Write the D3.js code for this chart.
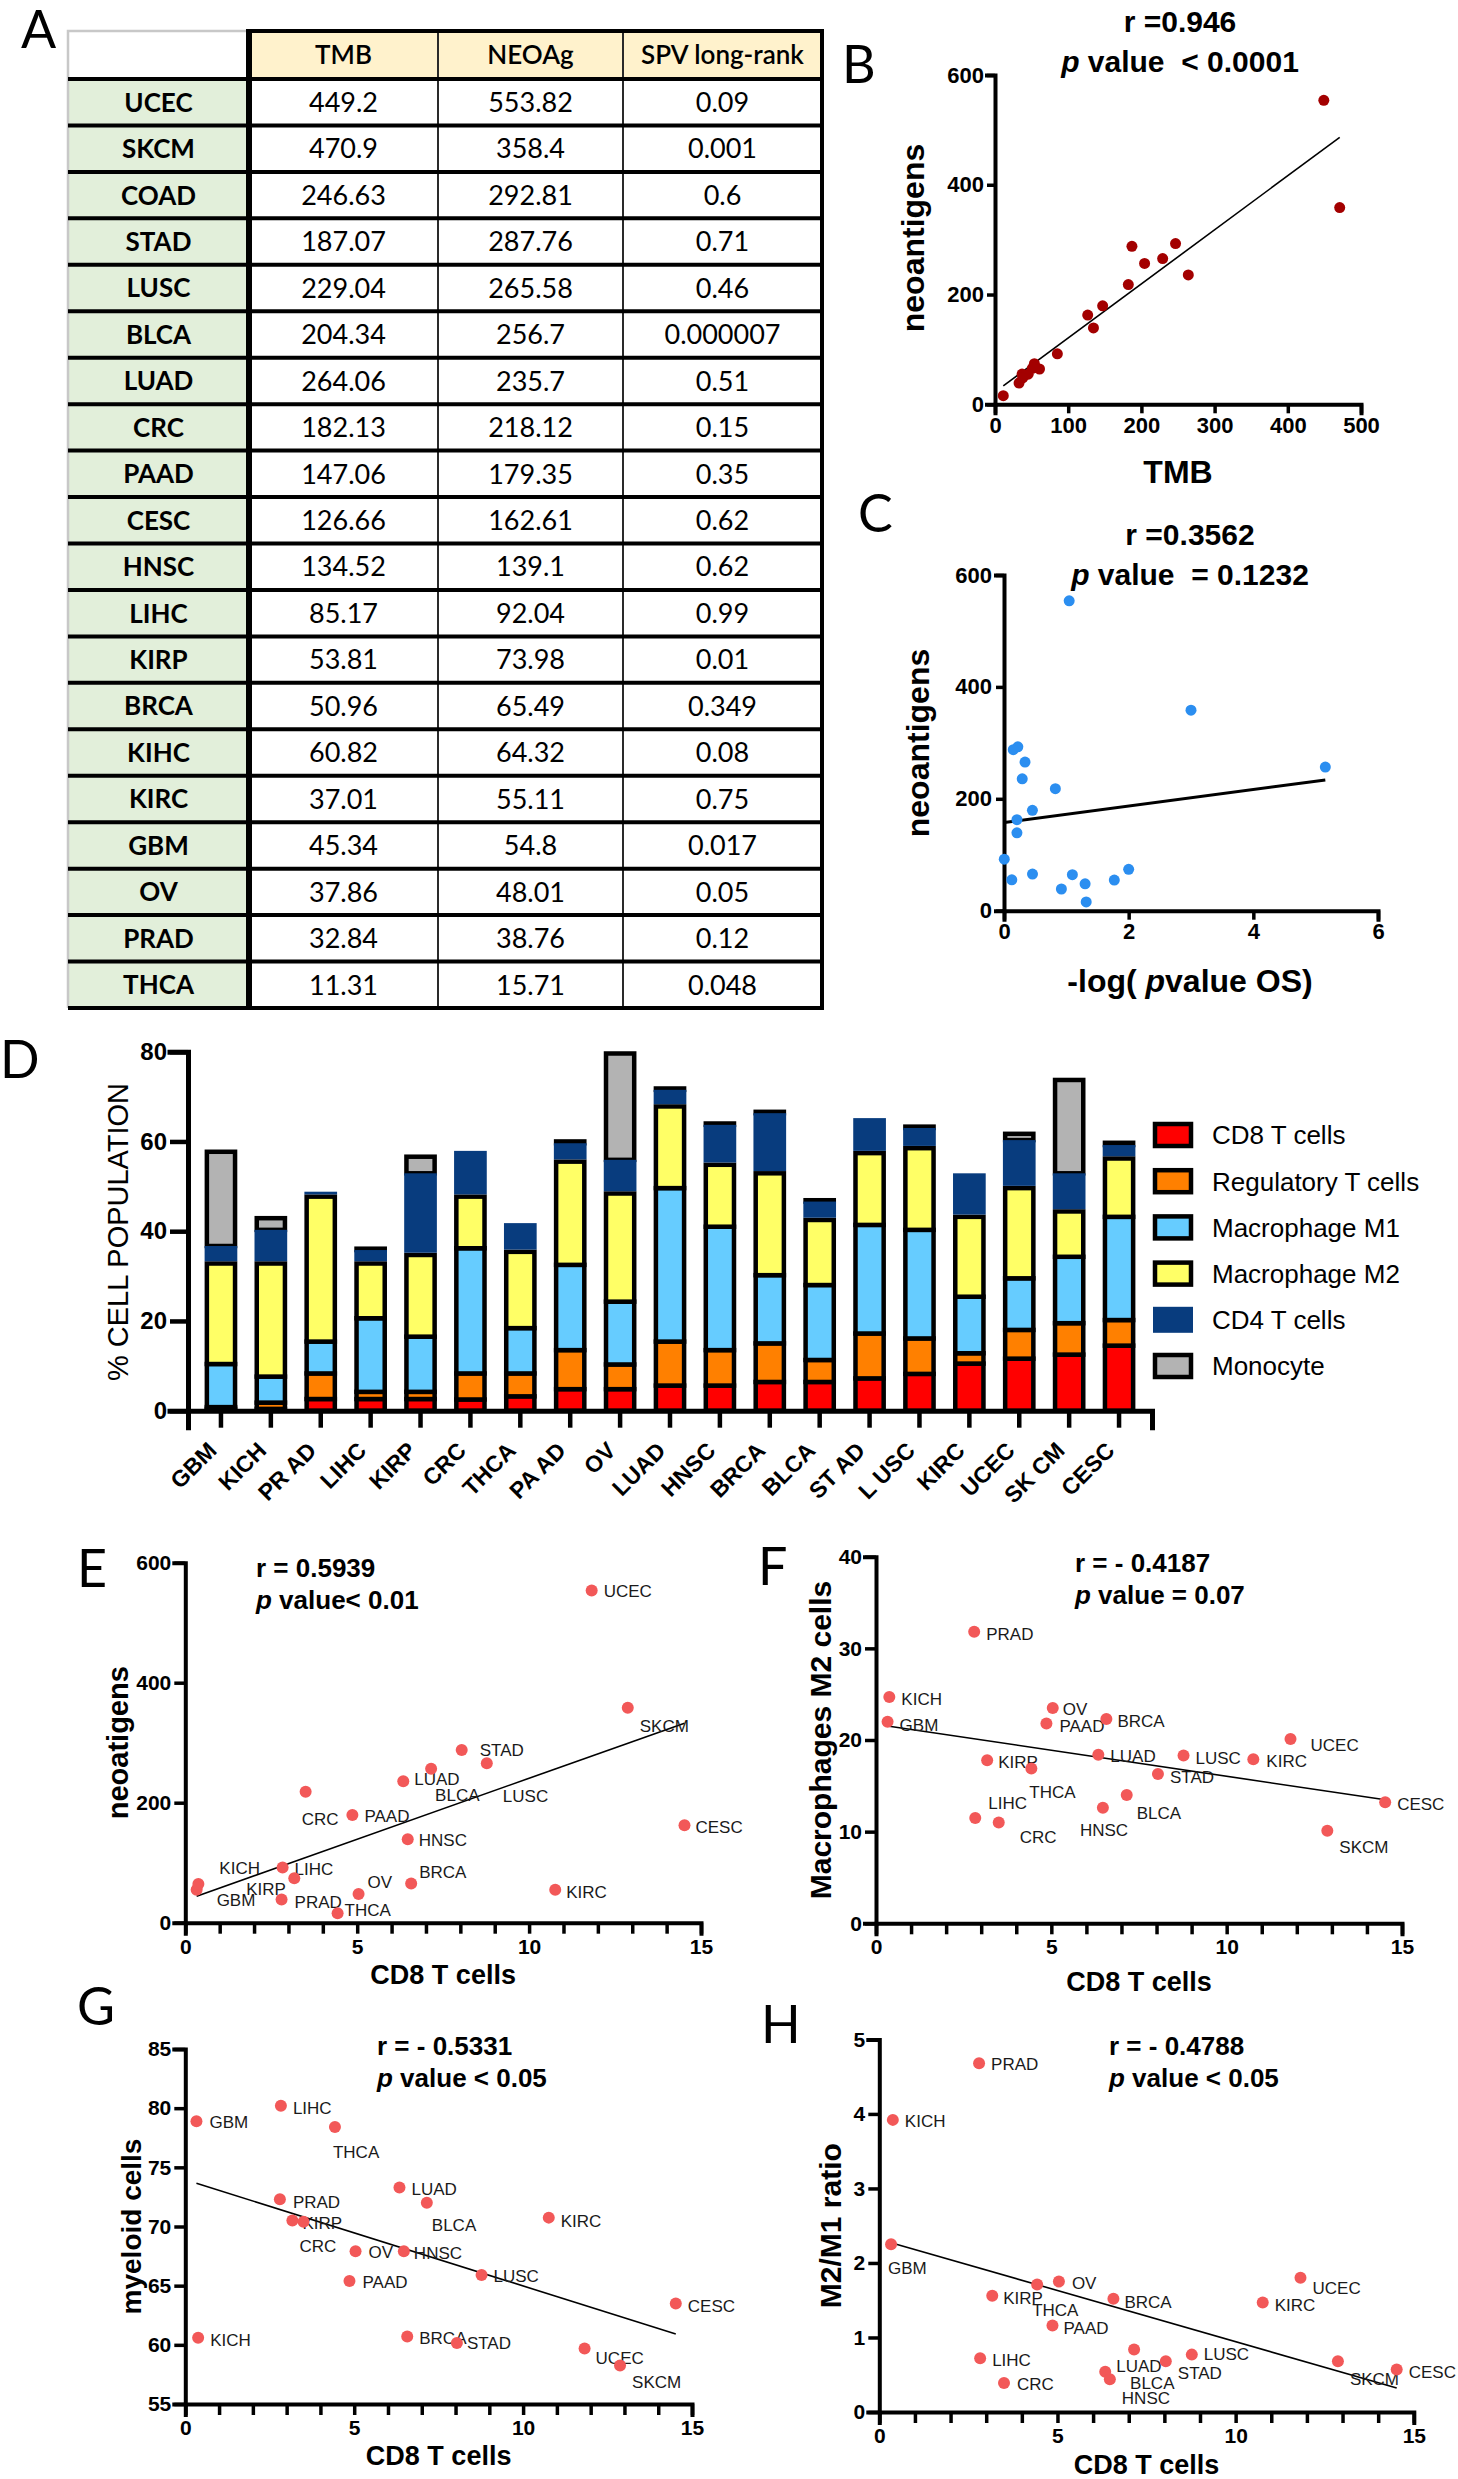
<!DOCTYPE html>
<html>
<head>
<meta charset="utf-8">
<script src="https://cdn.jsdelivr.net/npm/d3@7"></script>
<style>
  body { margin: 0; background: #fff; }
  svg { display: block; }
  text { font-family: "Liberation Sans", Arial, sans-serif; }
  .pre { white-space: pre; }
</style>
</head>
<body>
<script>
(function () {
  "use strict";

  // ---- panel A table (also feeds B and C)
  var tumours = ["UCEC", "SKCM", "COAD", "STAD", "LUSC", "BLCA", "LUAD", "CRC", "PAAD", "CESC",
                 "HNSC", "LIHC", "KIRP", "BRCA", "KIHC", "KIRC", "GBM", "OV", "PRAD", "THCA"];
  var tmbValues = [449.2, 470.9, 246.63, 187.07, 229.04, 204.34, 264.06, 182.13, 147.06, 126.66,
                   134.52, 85.17, 53.81, 50.96, 60.82, 37.01, 45.34, 37.86, 32.84, 11.31];
  var neoagValues = [553.82, 358.4, 292.81, 287.76, 265.58, 256.7, 235.7, 218.12, 179.35, 162.61,
                     139.1, 92.04, 73.98, 65.49, 64.32, 55.11, 54.8, 48.01, 38.76, 15.71];
  var spvValues = ["0.09", "0.001", "0.6", "0.71", "0.46", "0.000007", "0.51", "0.15", "0.35", "0.62",
                   "0.62", "0.99", "0.01", "0.349", "0.08", "0.75", "0.017", "0.05", "0.12", "0.048"];
  var tableHeads = ["TMB", "NEOAg", "SPV long-rank"];

  // ---- panel D stacked bars (% cell population)
  var barTumours = ["GBM", "KICH", "PR AD", "LIHC", "KIRP", "CRC", "THCA", "PA AD", "OV", "LUAD",
                    "HNSC", "BRCA", "BLCA", "ST AD", "L USC", "KIRC", "UCEC", "SK CM", "CESC"];
  var cellTypes = ["CD8 T cells", "Regulatory T cells", "Macrophage M1", "Macrophage M2", "CD4 T cells", "Monocyte"];
  var cd8Share  = [0.4, 0.4, 2.6, 2.6, 2.6, 2.5, 3.2, 4.8, 4.8, 5.6, 5.6, 6.4, 6.4, 7.2, 8.2, 10.5, 11.6, 12.5, 14.5];
  var tregShare = [0.4, 1.4, 5.7, 1.6, 1.6, 5.8, 5.1, 8.7, 5.5, 9.8, 7.9, 8.6, 4.9, 10.0, 7.9, 2.3, 6.4, 7.0, 5.7];
  var m1Share   = [9.6, 5.8, 7.1, 16.4, 12.3, 27.9, 10.1, 19.0, 14.0, 34.2, 27.5, 15.2, 16.7, 24.2, 24.2, 12.6, 11.5, 14.8, 23.0];
  var m2Share   = [22.4, 25.2, 32.3, 12.2, 18.2, 11.5, 17.0, 23.0, 24.1, 18.2, 13.8, 22.7, 14.5, 16.0, 18.2, 17.8, 20.1, 10.1, 13.0];
  var cd4Share  = [3.9, 7.5, 1.1, 3.0, 18.2, 10.2, 6.4, 4.1, 7.5, 3.7, 8.9, 13.4, 4.1, 7.8, 4.5, 9.7, 10.7, 8.5, 3.0];
  var monoShare = [21.0, 2.6, 0, 0.3, 3.7, 0, 0, 0.4, 23.7, 0.3, 0.3, 0.3, 0.3, 0, 0.3, 0, 1.4, 20.8, 0.5];

  // ---- panels E-H scatter (x = CD8 T cells)
  var sites = ["GBM", "KICH", "PRAD", "LIHC", "KIRP", "CRC", "THCA", "PAAD", "OV", "LUAD",
               "HNSC", "BRCA", "BLCA", "STAD", "LUSC", "KIRC", "UCEC", "SKCM", "CESC"];
  var cd8Cells = [0.33, 0.38, 2.8, 2.83, 3.17, 3.5, 4.43, 4.86, 5.04, 6.34,
                  6.47, 6.57, 7.15, 8.04, 8.77, 10.76, 11.82, 12.87, 14.52];
  var neoatigens = [54.8, 64.32, 38.76, 92.04, 73.98, 218.12, 15.71, 179.35, 48.01, 235.7,
                    139.1, 65.49, 256.7, 287.76, 265.58, 55.11, 553.82, 358.4, 162.61];
  var m2Cells = [22.0, 24.7, 31.8, 11.5, 17.8, 11.0, 16.9, 21.8, 23.5, 18.4,
                 12.6, 22.3, 14.0, 16.3, 18.3, 17.9, 20.1, 10.1, 13.2];
  var myeloidCells = [78.9, 60.6, 72.3, 80.2, 70.5, 70.4, 78.4, 65.4, 67.9, 73.3,
                      67.9, 60.7, 72.0, 60.15, 65.9, 70.75, 59.7, 58.25, 63.5];
  var m2m1Ratio = [2.25, 3.92, 4.68, 0.72, 1.56, 0.39, 1.71, 1.16, 1.75, 0.54,
                   0.44, 1.52, 0.84, 0.68, 0.77, 1.47, 1.80, 0.68, 0.57];

  var cellColors = ["#ff0000", "#ff8000", "#66ccff", "#ffff66", "#083c7e", "#b3b3b3"];
  var intFmt = d3.format('d');

  var svg = d3.select('body').append('svg')
      .attr('width', 1458)
      .attr('height', 2479);

  function panelLetter(letter, x, y) {
    svg.append('text')
        .attr('x', x).attr('y', y)
        .style('font-family', 'Lato, "Open Sans", sans-serif')
        .attr('font-size', 52)
        .text(letter);
  }

  function styleAxis(g, size) {
    g.attr('font-family', null).attr('font-size', null);
    g.select('.domain').attr('stroke', '#000').attr('stroke-width', 4).attr('stroke-linecap', 'square');
    g.selectAll('.tick line').attr('stroke', '#000').attr('stroke-width', 3.5);
    g.selectAll('.tick text').attr('fill', '#000').attr('font-weight', 'bold').attr('font-size', size);
  }

  function yLabel(txt, x, y, size, weight) {
    svg.append('text')
        .attr('transform', 'translate(' + x + ',' + y + ') rotate(-90)')
        .attr('text-anchor', 'middle').attr('dy', '0.35em')
        .attr('font-size', size).attr('font-weight', weight || 'bold')
        .text(txt);
  }

  function xLabel(x, y, size, parts) {
    var t = svg.append('text').attr('class', 'pre')
        .attr('x', x).attr('y', y).attr('text-anchor', 'middle')
        .attr('font-size', size).attr('font-weight', 'bold');
    parts.forEach(function (p) {
      t.append('tspan').attr('font-style', p[1] ? 'italic' : null).text(p[0]);
    });
    return t;
  }

  function fit(xs, ys) {
    var mx = d3.mean(xs), my = d3.mean(ys);
    var sxy = d3.sum(xs, function (x, i) { return (x - mx) * (ys[i] - my); });
    var sxx = d3.sum(xs, function (x) { return (x - mx) * (x - mx); });
    var slope = sxy / sxx;
    var ext = d3.extent(xs);
    return ext.map(function (x) { return [x, my + slope * (x - mx)]; });
  }

  // ================= A : table
  panelLetter('A', 21, 48);
  var colX = [68, 249, 438, 623, 822];
  var headTop = 31;
  var rows = d3.scaleBand().domain(tumours).range([79, 1008]);
  var rowH = rows.bandwidth();
  var tbl = svg.append('g');

  tbl.append('rect').attr('x', colX[1]).attr('y', headTop)
      .attr('width', colX[4] - colX[1]).attr('height', 79 - headTop).attr('fill', '#fff2cc');
  tbl.selectAll('.lab').data(tumours).enter().append('rect')
      .attr('x', colX[0]).attr('y', function (d) { return rows(d); })
      .attr('width', colX[1] - colX[0]).attr('height', rowH).attr('fill', '#e2efda');

  // light outline of empty corner / left edge
  tbl.append('path').attr('d', 'M' + colX[0] + ',1008V' + headTop + 'H' + colX[1])
      .attr('fill', 'none').attr('stroke', '#c8c8c8').attr('stroke-width', 2.5);
  // thin column rules
  [colX[2], colX[3]].forEach(function (x) {
    tbl.append('line').attr('x1', x).attr('x2', x).attr('y1', headTop).attr('y2', 1008)
        .attr('stroke', '#2a2a2a').attr('stroke-width', 2);
  });
  // row rules
  rows.domain().concat(['end']).forEach(function (d) {
    var y = d === 'end' ? 1008 : rows(d);
    tbl.append('line').attr('x1', colX[0]).attr('x2', colX[4] + 2).attr('y1', y).attr('y2', y)
        .attr('stroke', '#000').attr('stroke-width', 4);
  });
  tbl.append('line').attr('x1', colX[1]).attr('x2', colX[4] + 2).attr('y1', headTop).attr('y2', headTop)
      .attr('stroke', '#000').attr('stroke-width', 4);
  tbl.append('line').attr('x1', colX[1]).attr('x2', colX[1]).attr('y1', headTop - 2).attr('y2', 1010)
      .attr('stroke', '#000').attr('stroke-width', 6);
  tbl.append('line').attr('x1', colX[4]).attr('x2', colX[4]).attr('y1', headTop - 2).attr('y2', 1010)
      .attr('stroke', '#000').attr('stroke-width', 4);

  var tFont = 'Lato, "Open Sans", sans-serif';
  tableHeads.forEach(function (h, j) {
    tbl.append('text')
        .attr('x', (colX[j + 1] + colX[j + 2]) / 2).attr('y', (headTop + 79) / 2)
        .attr('dy', '0.36em').attr('text-anchor', 'middle')
        .style('font-family', tFont).attr('font-size', 26).attr('font-weight', 600)
        .text(h);
  });
  var cells = tbl.selectAll('.row').data(tumours).enter().append('g')
      .attr('transform', function (d) { return 'translate(0,' + (rows(d) + rowH / 2) + ')'; });
  cells.append('text').attr('x', (colX[0] + colX[1]) / 2).attr('dy', '0.36em')
      .attr('text-anchor', 'middle').style('font-family', tFont)
      .attr('font-size', 26).attr('font-weight', 'bold')
      .text(function (d) { return d; });
  [tmbValues, neoagValues, spvValues].forEach(function (col, j) {
    cells.append('text').attr('x', (colX[j + 1] + colX[j + 2]) / 2).attr('dy', '0.36em')
        .attr('text-anchor', 'middle').style('font-family', tFont).attr('font-size', 27)
        .text(function (d, i) { return String(col[i]); });
  });

  // ================= B : TMB vs neoantigens
  panelLetter('B', 842, 83);
  var bx = d3.scaleLinear().domain([0, 500]).range([995, 1361]);
  var by = d3.scaleLinear().domain([0, 600]).range([404.3, 75]);
  svg.append('g').attr('transform', 'translate(0,' + by(0) + ')')
      .call(d3.axisBottom(bx).tickValues([0, 100, 200, 300, 400, 500]).tickFormat(intFmt)
        .tickSizeOuter(0).tickSize(9).tickPadding(4))
      .call(styleAxis, 22);
  svg.append('g').attr('transform', 'translate(' + bx(0) + ',0)')
      .call(d3.axisLeft(by).tickValues([0, 200, 400, 600]).tickFormat(intFmt)
        .tickSizeOuter(0).tickSize(8).tickPadding(3))
      .call(styleAxis, 22);
  var bFit = fit(tmbValues, neoagValues);
  svg.append('line')
      .attr('x1', bx(bFit[0][0])).attr('y1', by(bFit[0][1]))
      .attr('x2', bx(bFit[1][0])).attr('y2', by(bFit[1][1]))
      .attr('stroke', '#000').attr('stroke-width', 1.6);
  svg.append('g').selectAll('circle').data(tmbValues).enter().append('circle')
      .attr('cx', function (d) { return bx(d); })
      .attr('cy', function (d, i) { return by(neoagValues[i]); })
      .attr('r', 5.5).attr('fill', '#a30000');
  xLabel(1180, 32, 30, [['r =0.946', false]]);
  xLabel(1180, 72, 30, [['p', true], [' value  < 0.0001', false]]);
  xLabel(1178, 483, 32, [['TMB', false]]);
  yLabel('neoantigens', 913, 238, 32);

  // ================= C : -log(p OS) vs neoantigens
  panelLetter('C', 858, 532);
  var logP = spvValues.map(function (s) { return -Math.log10(+s); });
  var cx = d3.scaleLinear().domain([0, 6]).range([1004, 1378]);
  var cy = d3.scaleLinear().domain([0, 600]).range([910.7, 575]);
  svg.append('g').attr('transform', 'translate(0,' + cy(0) + ')')
      .call(d3.axisBottom(cx).tickValues([0, 2, 4, 6]).tickFormat(intFmt)
        .tickSizeOuter(0).tickSize(9).tickPadding(4))
      .call(styleAxis, 22);
  svg.append('g').attr('transform', 'translate(' + cx(0) + ',0)')
      .call(d3.axisLeft(cy).tickValues([0, 200, 400, 600]).tickFormat(intFmt)
        .tickSizeOuter(0).tickSize(8).tickPadding(4))
      .call(styleAxis, 22);
  var cFit = fit(logP, neoagValues);
  svg.append('line')
      .attr('x1', cx(cFit[0][0])).attr('y1', cy(cFit[0][1]))
      .attr('x2', cx(cFit[1][0])).attr('y2', cy(cFit[1][1]))
      .attr('stroke', '#000').attr('stroke-width', 3);
  svg.append('g').selectAll('circle').data(logP).enter().append('circle')
      .attr('cx', function (d) { return cx(d); })
      .attr('cy', function (d, i) { return cy(neoagValues[i]); })
      .attr('r', 5.5).attr('fill', '#2b8ef0');
  xLabel(1190, 545, 30, [['r =0.3562', false]]);
  xLabel(1190, 585, 30, [['p', true], [' value  = 0.1232', false]]);
  xLabel(1190, 992, 32, [['-log( ', false], ['p', true], ['value OS)', false]]);
  yLabel('neoantigens', 918, 743, 32);

  // ================= D : stacked bars
  panelLetter('D', 0, 1078);
  var barRows = barTumours.map(function (t, i) {
    var r = {tumour: t};
    [cd8Share, tregShare, m1Share, m2Share, cd4Share, monoShare].forEach(function (arr, k) {
      r[cellTypes[k]] = arr[i];
    });
    return r;
  });
  var stacked = d3.stack().keys(cellTypes)(barRows);
  var dx = d3.scaleBand().domain(barTumours).range([188, 1152]).paddingInner(0.435).paddingOuter(0.378);
  var dy = d3.scaleLinear().domain([0, 80]).range([1410.7, 1051.7]);
  var bw = dx.bandwidth();

  var barG = svg.append('g');
  [0, 1, 2, 3, 5].forEach(function (k) {
    barG.append('g').selectAll('rect').data(stacked[k].filter(function (s) { return s[1] - s[0] > 0; }))
        .enter().append('rect')
        .attr('x', function (s) { return dx(s.data.tumour); })
        .attr('y', function (s) { return dy(s[1]); })
        .attr('width', bw)
        .attr('height', function (s) { return dy(s[0]) - dy(s[1]); })
        .attr('fill', cellColors[k]).attr('stroke', '#000').attr('stroke-width', 4.5);
  });
  barG.append('g').selectAll('rect').data(stacked[4]).enter().append('rect')
      .attr('x', function (s) { return dx(s.data.tumour) - 2.25; })
      .attr('y', function (s) { return dy(s[1]); })
      .attr('width', bw + 4.5)
      .attr('height', function (s) { return Math.max(0, dy(s[0]) - dy(s[1]) - 2.25); })
      .attr('fill', cellColors[4]);

  svg.append('g').attr('transform', 'translate(0,' + dy(0) + ')')
      .call(d3.axisBottom(dx).tickSizeOuter(0).tickSize(17).tickFormat(''))
      .call(styleAxis, 22)
      .call(function (g) { g.selectAll('.tick line').attr('stroke-width', 4.5); g.select('.domain').attr('stroke-width', 5); });
  svg.append('g').attr('transform', 'translate(' + dx.range()[0] + ',0)')
      .call(d3.axisLeft(dy).tickValues([0, 20, 40, 60, 80]).tickFormat(intFmt)
        .tickSizeOuter(0).tickSize(18).tickPadding(3))
      .call(styleAxis, 24)
      .call(function (g) { g.selectAll('.tick line').attr('stroke-width', 4.5); g.select('.domain').attr('stroke-width', 5); });
  svg.append('g').selectAll('text').data(barTumours).enter().append('text')
      .attr('transform', function (d) {
        return 'translate(' + (dx(d) + bw / 2 - 3) + ',1452) rotate(-45)';
      })
      .attr('text-anchor', 'end').attr('font-weight', 'bold').attr('font-size', 23)
      .text(function (d) { return d; });
  yLabel('% CELL POPULATION', 118, 1232, 29, 'normal');

  var legend = svg.append('g').selectAll('g').data(cellTypes).enter().append('g')
      .attr('transform', function (d, i) { return 'translate(1154,' + (1135 + i * 46.2) + ')'; });
  legend.append('rect')
      .attr('x', function (d, i) { return i === 4 ? -1 : 1; })
      .attr('y', function (d, i) { return i === 4 ? -13 : -11; })
      .attr('width', function (d, i) { return i === 4 ? 40 : 36; })
      .attr('height', function (d, i) { return i === 4 ? 26 : 22; })
      .attr('fill', function (d, i) { return cellColors[i]; })
      .attr('stroke', function (d, i) { return i === 4 ? 'none' : '#000'; })
      .attr('stroke-width', 4.5);
  legend.append('text').attr('x', 58).attr('dy', '0.36em').attr('font-size', 26)
      .text(function (d) { return d; });

  // ================= E-H : scatter vs CD8 T cells
  function scatterPanel(o) {
    var x = d3.scaleLinear().domain([0, 15]).range(o.xr);
    var y = d3.scaleLinear().domain(o.yd).range(o.yr);
    svg.append('g').attr('transform', 'translate(0,' + o.yr[0] + ')')
        .call(d3.axisBottom(x).tickValues(d3.range(0, 16)).tickSizeOuter(0).tickSize(11).tickPadding(5)
          .tickFormat(function (v) { return v % 5 === 0 ? intFmt(v) : ''; }))
        .call(styleAxis, 21);
    svg.append('g').attr('transform', 'translate(' + o.xr[0] + ',0)')
        .call(d3.axisLeft(y).tickValues(o.yt).tickFormat(intFmt)
          .tickSizeOuter(0).tickSize(11).tickPadding(3))
        .call(styleAxis, 21);
    var f = fit(cd8Cells, o.ys);
    svg.append('line')
        .attr('x1', x(f[0][0])).attr('y1', y(f[0][1]))
        .attr('x2', x(f[1][0])).attr('y2', y(f[1][1]))
        .attr('stroke', '#000').attr('stroke-width', 1.6);
    var pts = svg.append('g').selectAll('g').data(sites).enter().append('g')
        .attr('transform', function (d, i) { return 'translate(' + x(cd8Cells[i]) + ',' + y(o.ys[i]) + ')'; });
    pts.append('circle').attr('r', 6).attr('fill', '#f25858');
    pts.append('text')
        .attr('x', function (d) { return (o.nudge[d] || [12, 1])[0]; })
        .attr('y', function (d) { return (o.nudge[d] || [12, 1])[1]; })
        .attr('dy', '0.36em').attr('font-size', 17).attr('fill', '#1a1a1a')
        .text(function (d) { return d; });
    xLabel(o.title[0], o.title[1], 26, [[o.r, false]]).attr('text-anchor', 'start');
    xLabel(o.title[0], o.title[1] + 32, 26, [['p', true], [o.p, false]]).attr('text-anchor', 'start');
    xLabel((o.xr[0] + o.xr[1]) / 2, o.xlab, 27, [['CD8 T cells', false]]);
    yLabel(o.ylabel[0], o.ylabel[1], (o.yr[0] + o.yr[1]) / 2, o.ylabel[2]);
  }

  panelLetter('E', 77, 1587);
  scatterPanel({
    xr: [185.3, 701], yd: [0, 600], yr: [1922.7, 1562.7], yt: [0, 200, 400, 600], ys: neoatigens,
    r: 'r = 0.5939', p: ' value< 0.01', title: [256, 1577], xlab: 1984,
    ylabel: ['neoatigens', 117.5, 29],
    nudge: {UCEC: [12, 0], SKCM: [12, 18], STAD: [18, 0], LUSC: [16, 33], BLCA: [4, 26], LUAD: [11, -2],
            CRC: [-4, 27], PAAD: [12, 1], HNSC: [11, 1], CESC: [11, 2], LIHC: [12, 1], KIRP: [-48, 11],
            KICH: [21, -16], GBM: [20, 10], BRCA: [8, -12], KIRC: [11, 2], OV: [9, -12], PRAD: [13, 2], THCA: [7, -3]}
  });

  panelLetter('F', 758, 1585);
  scatterPanel({
    xr: [876, 1402], yd: [0, 40], yr: [1923.3, 1556.7], yt: [0, 10, 20, 30, 40], ys: m2Cells,
    r: 'r = - 0.4187', p: ' value = 0.07', title: [1075, 1572], xlab: 1991,
    ylabel: ['Macrophages M2 cells', 820, 30],
    nudge: {PRAD: [12, 2], KICH: [12, 2], GBM: [12, 3], OV: [10, 1], PAAD: [13, 2], BRCA: [11, 2], UCEC: [20, 6],
            KIRP: [11, 2], THCA: [-2, 23], LUAD: [12, 1], LUSC: [12, 2], KIRC: [13, 2], STAD: [12, 3],
            BLCA: [10, 18], HNSC: [-23, 22], LIHC: [13, -15], CRC: [21, 14], SKCM: [12, 16], CESC: [12, 2]}
  });

  panelLetter('G', 77, 2025);
  scatterPanel({
    xr: [185.3, 692], yd: [55, 85], yr: [2404, 2049], yt: [55, 60, 65, 70, 75, 80, 85], ys: myeloidCells,
    r: 'r = - 0.5331', p: ' value < 0.05', title: [377, 2055], xlab: 2465,
    ylabel: ['myeloid cells', 131.5, 28],
    nudge: {LIHC: [12, 2], GBM: [13, 1], THCA: [-2, 25], LUAD: [12, 1], PRAD: [13, 3], BLCA: [5, 22],
            KIRC: [12, 3], KIRP: [10, 2], CRC: [-4, 24], OV: [13, 1], HNSC: [10, 2], LUSC: [12, 1],
            PAAD: [13, 1], CESC: [12, 2], KICH: [12, 2], BRCA: [12, 1], STAD: [10, 0], UCEC: [11, 10], SKCM: [12, 16]}
  });

  panelLetter('H', 761, 2043);
  scatterPanel({
    xr: [879.3, 1413.8], yd: [0, 5], yr: [2412, 2039.4], yt: [0, 1, 2, 3, 4, 5], ys: m2m1Ratio,
    r: 'r = - 0.4788', p: ' value < 0.05', title: [1109, 2055], xlab: 2474,
    ylabel: ['M2/M1 ratio', 830.5, 30],
    nudge: {PRAD: [12, 1], KICH: [12, 1], GBM: [-3, 24], OV: [13, 1], THCA: [-5, 25], UCEC: [12, 10],
            KIRP: [11, 2], BRCA: [11, 3], KIRC: [12, 2], PAAD: [11, 2], LIHC: [12, 2], LUAD: [11, -6],
            BLCA: [-4, 33], STAD: [12, 12], LUSC: [12, -1], SKCM: [12, 18], CESC: [12, 2], HNSC: [12, 19], CRC: [13, 1]}
  });
}());
</script>
</body>
</html>
